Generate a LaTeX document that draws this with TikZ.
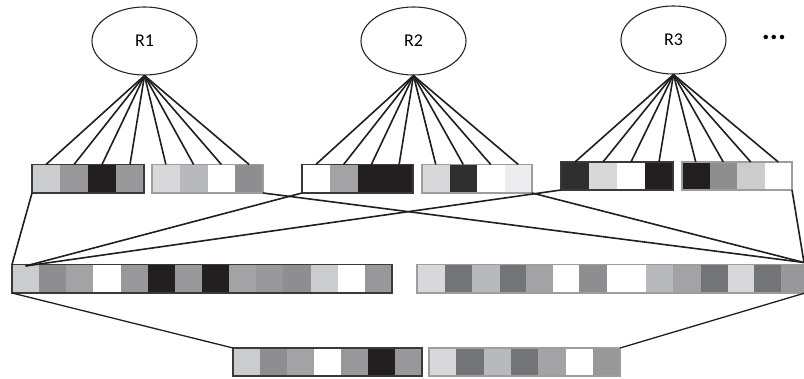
\documentclass[tikz,border=0pt]{standalone}
\usepackage{fontspec}
\setmainfont{Carlito}
\usetikzlibrary{shapes.geometric,calc}
\definecolor{W}{HTML}{FFFFFF}
\definecolor{VL}{HTML}{EDEDEF}
\definecolor{L1}{HTML}{D8D8DA}
\definecolor{L2}{HTML}{CBCCCD}
\definecolor{L3}{HTML}{B8B9BC}
\definecolor{M1}{HTML}{A3A3A6}
\definecolor{M2}{HTML}{98989B}
\definecolor{M3}{HTML}{8E8E91}
\definecolor{D1}{HTML}{737477}
\definecolor{K}{HTML}{231F20}
\definecolor{K2}{HTML}{2F2F2F}
\definecolor{bordD}{HTML}{3A3A3A}
\definecolor{bordL}{HTML}{9D9D9F}
\tikzset{
  cell/.style={rectangle, inner sep=0pt, outer sep=0pt, draw=none},
  darkbox/.style={rectangle, draw=bordD, line width=1.8pt, inner sep=0pt, outer sep=0pt},
  lightbox/.style={rectangle, draw=bordL, line width=1.8pt, inner sep=0pt, outer sep=0pt},
  gene/.style={ellipse, draw=black!85, line width=1.1pt, minimum width=105pt, minimum height=68pt, inner sep=0pt, font=\fontsize{18}{20}\selectfont},
  link/.style={draw=black!88, line width=1.6pt},
  thin link/.style={draw=black!88, line width=1.3pt}
}
% name, x0, ytop, cellwidth, height, ncells, colours, boxstyle
\newcommand\chrom[8]{%
  \foreach \c [count=\i] in {#7} {
    \node[cell, fill=\c, minimum width=#4pt, minimum height=#5pt, anchor=north west] (#1-\i) at ({#2+(\i-1)*#4}, #3) {};
  }
  \node[#8, minimum width={#6*#4pt}, minimum height=#5pt, anchor=north west] (#1) at (#2,#3) {};
}
\begin{document}
\begin{tikzpicture}[x=1pt, y=-1pt]
\useasboundingbox (0,0) rectangle (804,379);
% gene nodes
\node[gene] (R1) at (144.5,41) {R1};
\node[gene] (R2) at (413.5,41) {R2};
\node[gene] (R3) at (673.5,40) {R3};
\node (dots) at (774,37) {\fontsize{30}{30}\selectfont\textbf{...}};
% top chromosomes
\chrom{A1}{32}{164.5}{28}{28.5}{4}{L2,M2,K,M2}{darkbox}
\chrom{A2}{152}{164.5}{27.75}{28.5}{4}{L1,L3,W,M3}{lightbox}
\chrom{B1}{302}{164.5}{27.75}{28.5}{4}{W,M1,K,K}{darkbox}
\chrom{B2}{422}{164.5}{27.5}{28.5}{4}{L1,K2,W,VL}{lightbox}
\chrom{C1}{561}{162}{28}{28}{4}{K2,L1,W,K}{darkbox}
\chrom{C2}{682}{162}{27.5}{28}{4}{K,M3,L2,W}{lightbox}
% middle chromosomes
\chrom{D}{12}{264.5}{27.14}{28.5}{14}{L2,M3,M1,W,M2,K,M2,K,M1,M2,M3,L2,W,M2}{darkbox}
\foreach \xa/\w/\c [count=\i] in {417/28/L1,445/27/D1,472/28/L3,500/26/D1,526/27/M1,553/26/W,579/28/M3,607/39/W,646/27/L3,673/28/M1,701/27/D1,728/26/L1,754/27/D1,781/24/M2} {
  \node[cell, fill=\c, minimum width=\w pt, minimum height=28.5pt, anchor=north west] (E-\i) at (\xa,264.5) {};
}
\node[lightbox, minimum width=388pt, minimum height=28.5pt, anchor=north west] (E) at (417,264.5) {};
% bottom chromosomes
\chrom{F}{233}{348}{27}{28}{7}{L2,M3,M1,W,M2,K,M2}{darkbox}
\chrom{G}{429}{348}{27.3}{28}{7}{L1,D1,L3,D1,M1,W,M2}{lightbox}
% gene-to-cell links
\foreach \g/\a/\b in {R1/A1/A2, R2/B1/B2, R3/C1/C2} {
  \foreach \k in {1,...,4} {
    \draw[link] (\g.south) -- (\a-\k.north);
    \draw[link] (\g.south) -- (\b-\k.north);
  }
}
% crossover links
\coordinate (dIn) at ($(D-1.north)+(0,1.5)$);
\coordinate (eIn) at ($(E.north east)+(-1,-2)$);
\draw[link] (A1.south west) -- (D.north west);
\draw[link] (B1.south west) -- (dIn);
\draw[link] (C1.south west) -- (dIn);
\draw[link] (A2.south east) -- (eIn);
\draw[link] (B2.south east) -- (eIn);
\draw[link] (C2.south east) -- (eIn);
\draw[thin link] (D.south west) -- (F.north west);
\draw[thin link] (E.south east) -- (G.north east);
\end{tikzpicture}
\end{document}
